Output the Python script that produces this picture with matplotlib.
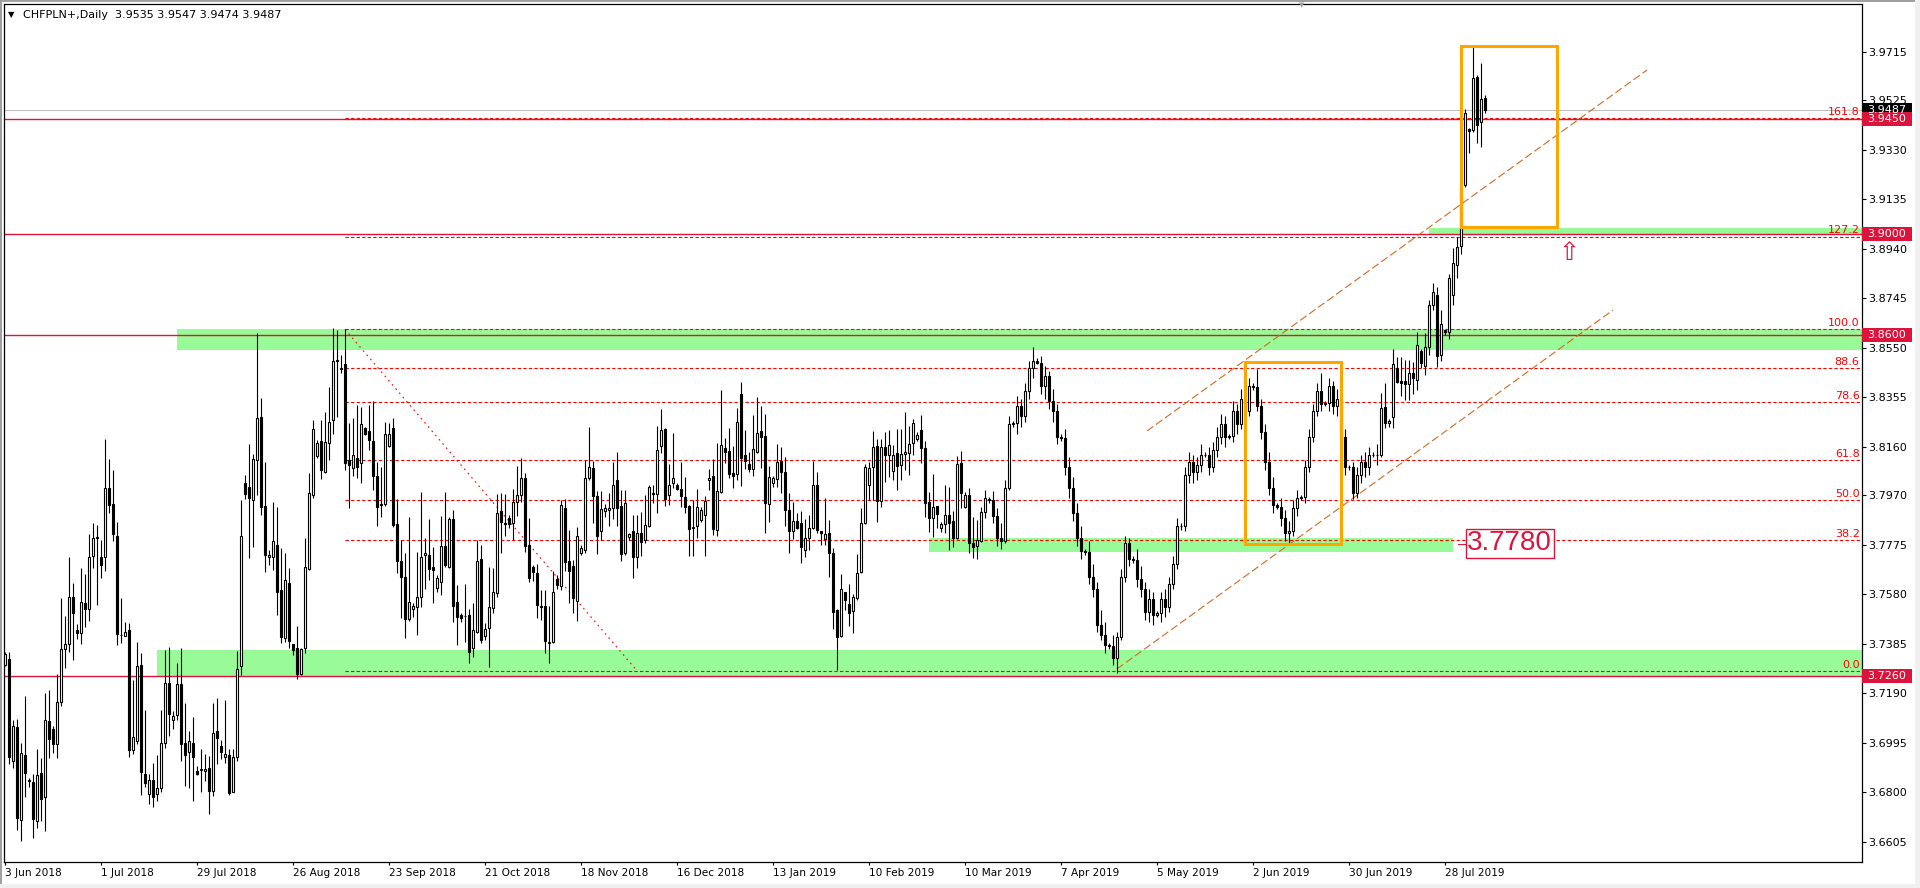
import numpy as np
import matplotlib.pyplot as plt
from matplotlib.patches import Rectangle
import matplotlib.transforms as mtransforms

plt.rcParams['font.family'] = ['DejaVu Sans']

# daily CHFPLN+ candles, one per trading day (Sunday bars included)
opens = [
    3.7300, 3.7325, 3.6925, 3.7056, 3.6690, 3.6949, 3.6847, 3.6839, 3.6687, 3.6876,
    3.6782, 3.7081, 3.7049, 3.6990, 3.7155, 3.7365, 3.7386, 3.7569, 3.7440, 3.7429,
    3.7546, 3.7521, 3.7731, 3.7804, 3.7725, 3.7725, 3.7998, 3.7935, 3.7809, 3.7420,
    3.7416, 3.7440, 3.6965, 3.7003, 3.7302, 3.6873, 3.6792, 3.6850, 3.6792, 3.6819,
    3.6995, 3.7230, 3.7087, 3.7104, 3.7226, 3.6995, 3.6959, 3.6995, 3.6884, 3.6887,
    3.6884, 3.6898, 3.6807, 3.7040, 3.6983, 3.6941, 3.6949, 3.6803, 3.6938, 3.7298,
    3.8020, 3.8004, 3.7951, 3.8109, 3.8279, 3.7928, 3.7726, 3.7728, 3.7774, 3.7597,
    3.7407, 3.7623, 3.7384, 3.7367, 3.7266, 3.7367, 3.7678, 3.7971, 3.8125, 3.8184,
    3.8063, 3.8177, 3.8266, 3.8500, 3.8468, 3.8487, 3.8109, 3.8076, 3.8115, 3.8096,
    3.8233, 3.8223, 3.8184, 3.8046, 3.7936, 3.7936, 3.8165, 3.8233, 3.7857, 3.7713,
    3.7647, 3.7483, 3.7522, 3.7529, 3.7571, 3.7735, 3.7735, 3.7688, 3.7604, 3.7630,
    3.7770, 3.7689, 3.7875, 3.7551, 3.7499, 3.7494, 3.7497, 3.7367, 3.7433, 3.7718,
    3.7416, 3.7446, 3.7525, 3.7587, 3.7906, 3.7862, 3.7879, 3.7862, 3.7945, 3.7971,
    3.8037, 3.7775, 3.7689, 3.7663, 3.7534, 3.7534, 3.7387, 3.7394, 3.7639, 3.7613,
    3.7919, 3.7711, 3.7692, 3.7555, 3.7742, 3.7755, 3.8037, 3.8076, 3.7967, 3.7831,
    3.7906, 3.7910, 3.7919, 3.8030, 3.7928, 3.7744, 3.7805, 3.7829, 3.7725, 3.7820,
    3.7794, 3.7850, 3.7975, 3.7974, 3.8162, 3.8230, 3.7971, 3.8017, 3.8011, 3.7994,
    3.7962, 3.7928, 3.7841, 3.7847, 3.7873, 3.7893, 3.8030, 3.8046, 3.7833, 3.7984,
    3.8155, 3.8144, 3.8059, 3.8054, 3.8367, 3.8129, 3.8092, 3.8072, 3.8142, 3.8221,
    3.8203, 3.7934, 3.8017, 3.8033, 3.8106, 3.8063, 3.7912, 3.7830, 3.7870, 3.7860,
    3.7755, 3.7801, 3.7840, 3.8011, 3.7830, 3.7797, 3.7823, 3.7742, 3.7518, 3.7416,
    3.7589, 3.7542, 3.7515, 3.7567, 3.7669, 3.7862, 3.8011, 3.8083, 3.8162, 3.7949,
    3.8159, 3.8127, 3.8066, 3.8138, 3.8088, 3.8131, 3.8135, 3.8175, 3.8190, 3.8227,
    3.8155, 3.7942, 3.7879, 3.7928, 3.7840, 3.7856, 3.7891, 3.7869, 3.7801, 3.8096,
    3.7925, 3.7970, 3.7781, 3.7770, 3.7790, 3.7903, 3.7955, 3.7950, 3.7890, 3.7800,
    3.7790, 3.8000, 3.8250, 3.8255, 3.8320, 3.8280, 3.8380, 3.8470, 3.8500, 3.8490,
    3.8400, 3.8440, 3.8340, 3.8300, 3.8200, 3.8195, 3.8080, 3.8000, 3.7900, 3.7800,
    3.7750, 3.7745, 3.7650, 3.7600, 3.7460, 3.7420, 3.7380, 3.7375, 3.7330, 3.7410,
    3.7650, 3.7780, 3.7720, 3.7715, 3.7640, 3.7600, 3.7510, 3.7560, 3.7500, 3.7505,
    3.7560, 3.7530, 3.7620, 3.7700, 3.7850, 3.7848, 3.8050, 3.8100, 3.8060, 3.8090,
    3.8130, 3.8128, 3.8080, 3.8150, 3.8200, 3.8250, 3.8200, 3.8205, 3.8300, 3.8250,
    3.8350, 3.8300, 3.8400, 3.8395, 3.8320, 3.8220, 3.8100, 3.8000, 3.7930, 3.7925,
    3.7880, 3.7820, 3.7830, 3.7920, 3.7960, 3.7962, 3.8080, 3.8200, 3.8300, 3.8380,
    3.8330, 3.8332, 3.8400, 3.8320, 3.8350, 3.8200, 3.8080, 3.8082, 3.7980, 3.8050,
    3.8100, 3.8080, 3.8130, 3.8128, 3.8129, 3.8316, 3.8253, 3.8277, 3.8470, 3.8418,
    3.8418, 3.8408, 3.8450, 3.8424, 3.8536, 3.8479, 3.8555, 3.8719, 3.8760, 3.8522,
    3.8620, 3.8614, 3.8760, 3.8877, 3.8950, 3.9191, 3.9410, 3.9408, 3.9618, 3.9441, 3.9535,
]
highs = [
    3.7352, 3.7352, 3.7087, 3.7090, 3.6995, 3.7180, 3.6857, 3.6873, 3.6972, 3.6934,
    3.7193, 3.7203, 3.7060, 3.7266, 3.7565, 3.7494, 3.7725, 3.7623, 3.7463, 3.7684,
    3.7660, 3.7817, 3.7860, 3.7852, 3.7792, 3.8191, 3.8111, 3.8068, 3.7863, 3.7566,
    3.7470, 3.7467, 3.7243, 3.7392, 3.7348, 3.7124, 3.6873, 3.6914, 3.6949, 3.7124,
    3.7361, 3.7372, 3.7121, 3.7308, 3.7368, 3.7152, 3.7040, 3.7097, 3.6904, 3.6972,
    3.6952, 3.6945, 3.7151, 3.7171, 3.7006, 3.7162, 3.6972, 3.6972, 3.7356, 3.7952,
    3.8050, 3.8172, 3.8132, 3.8608, 3.8352, 3.8102, 3.7755, 3.7945, 3.7925, 3.7761,
    3.7744, 3.7682, 3.7386, 3.7455, 3.7367, 3.7800, 3.8056, 3.8266, 3.8188, 3.8266,
    3.8299, 3.8398, 3.8627, 3.8621, 3.8522, 3.8623, 3.8256, 3.8273, 3.8325, 3.8316,
    3.8240, 3.8325, 3.8342, 3.8102, 3.8083, 3.8260, 3.8253, 3.8273, 3.7954, 3.7794,
    3.7741, 3.7886, 3.7545, 3.7748, 3.7982, 3.7800, 3.7875, 3.7768, 3.7656, 3.7890,
    3.7982, 3.7886, 3.7912, 3.7617, 3.7505, 3.7621, 3.7521, 3.7545, 3.7794, 3.7774,
    3.7468, 3.7689, 3.7682, 3.7974, 3.7978, 3.7974, 3.7893, 3.7995, 3.8087, 3.8116,
    3.8059, 3.7879, 3.7696, 3.7698, 3.7597, 3.7597, 3.7532, 3.7670, 3.7656, 3.7952,
    3.7954, 3.7833, 3.7715, 3.7843, 3.7774, 3.8109, 3.8240, 3.8103, 3.7988, 3.7988,
    3.7936, 3.7980, 3.8099, 3.8139, 3.7991, 3.7991, 3.7820, 3.7893, 3.7893, 3.7903,
    3.7971, 3.8011, 3.8011, 3.8243, 3.8310, 3.8233, 3.8093, 3.8214, 3.8020, 3.8100,
    3.8043, 3.7932, 3.7952, 3.7993, 3.7925, 3.7965, 3.8072, 3.8112, 3.8175, 3.8385,
    3.8194, 3.8234, 3.8164, 3.8312, 3.8415, 3.8227, 3.8142, 3.8286, 3.8358, 3.8322,
    3.8290, 3.8085, 3.8046, 3.8172, 3.8159, 3.8120, 3.7980, 3.7942, 3.7899, 3.7906,
    3.7877, 3.7893, 3.8106, 3.8063, 3.7830, 3.7958, 3.7873, 3.7761, 3.7521, 3.7660,
    3.7589, 3.7621, 3.7581, 3.7739, 3.7919, 3.8093, 3.8102, 3.8222, 3.8190, 3.8190,
    3.8218, 3.8227, 3.8168, 3.8230, 3.8230, 3.8297, 3.8243, 3.8270, 3.8218, 3.8286,
    3.8185, 3.7983, 3.8054, 3.7928, 3.7866, 3.8011, 3.8004, 3.7906, 3.8125, 3.8146,
    3.7984, 3.7997, 3.7883, 3.7873, 3.7925, 3.7990, 3.7962, 3.7985, 3.7920, 3.7860,
    3.8030, 3.8280, 3.8262, 3.8360, 3.8350, 3.8410, 3.8500, 3.8555, 3.8510, 3.8520,
    3.8480, 3.8460, 3.8390, 3.8330, 3.8210, 3.8230, 3.8120, 3.8040, 3.7940, 3.7850,
    3.7760, 3.7790, 3.7700, 3.7630, 3.7520, 3.7470, 3.7390, 3.7420, 3.7430, 3.7680,
    3.7810, 3.7800, 3.7730, 3.7760, 3.7690, 3.7630, 3.7600, 3.7590, 3.7515, 3.7590,
    3.7600, 3.7650, 3.7730, 3.7880, 3.7860, 3.8080, 3.8140, 3.8130, 3.8120, 3.8170,
    3.8140, 3.8160, 3.8180, 3.8240, 3.8290, 3.8280, 3.8210, 3.8340, 3.8330, 3.8390,
    3.8380, 3.8430, 3.8410, 3.8465, 3.8350, 3.8250, 3.8140, 3.8040, 3.7940, 3.7960,
    3.7910, 3.7870, 3.7950, 3.7990, 3.7970, 3.8110, 3.8230, 3.8330, 3.8410, 3.8450,
    3.8340, 3.8430, 3.8420, 3.8390, 3.8370, 3.8230, 3.8090, 3.8100, 3.8080, 3.8130,
    3.8140, 3.8160, 3.8140, 3.8170, 3.8372, 3.8411, 3.8270, 3.8545, 3.8516, 3.8513,
    3.8503, 3.8503, 3.8496, 3.8614, 3.8545, 3.8610, 3.8739, 3.8804, 3.8790, 3.8700,
    3.8621, 3.8840, 3.8942, 3.8988, 3.9195, 3.9489, 3.9414, 3.9739, 3.9624, 3.9673, 3.9547,
]
lows = [
    3.7298, 3.6911, 3.6898, 3.6651, 3.6610, 3.6782, 3.6823, 3.6620, 3.6660, 3.6687,
    3.6647, 3.6934, 3.6955, 3.6934, 3.7142, 3.7291, 3.7352, 3.7321, 3.7402, 3.7386,
    3.7451, 3.7474, 3.7684, 3.7537, 3.7643, 3.7673, 3.7901, 3.7788, 3.7379, 3.7388,
    3.7414, 3.6938, 3.6952, 3.6992, 3.6789, 3.6823, 3.6755, 3.6744, 3.6765, 3.6800,
    3.6976, 3.7022, 3.7049, 3.7087, 3.6925, 3.6827, 3.6816, 3.6765, 3.6868, 3.6803,
    3.6843, 3.6715, 3.6785, 3.6911, 3.6931, 3.6914, 3.6789, 3.6800, 3.6925, 3.7264,
    3.7955, 3.7722, 3.7768, 3.7971, 3.7892, 3.7669, 3.7695, 3.7676, 3.7499, 3.7387,
    3.7394, 3.7367, 3.7341, 3.7245, 3.7262, 3.7348, 3.7676, 3.7958, 3.8115, 3.8034,
    3.8056, 3.8109, 3.8211, 3.8279, 3.8450, 3.8069, 3.7919, 3.8046, 3.8037, 3.8017,
    3.8207, 3.8148, 3.7991, 3.7849, 3.7886, 3.7928, 3.8161, 3.7846, 3.7663, 3.7486,
    3.7407, 3.7476, 3.7492, 3.7420, 3.7531, 3.7600, 3.7636, 3.7545, 3.7590, 3.7577,
    3.7689, 3.7682, 3.7472, 3.7381, 3.7472, 3.7394, 3.7308, 3.7335, 3.7426, 3.7387,
    3.7400, 3.7295, 3.7505, 3.7571, 3.7742, 3.7810, 3.7840, 3.7794, 3.7889, 3.7945,
    3.7748, 3.7630, 3.7634, 3.7486, 3.7477, 3.7348, 3.7311, 3.7387, 3.7600, 3.7597,
    3.7670, 3.7547, 3.7508, 3.7473, 3.7735, 3.7744, 3.8030, 3.7862, 3.7739, 3.7792,
    3.7883, 3.7847, 3.7877, 3.7847, 3.7713, 3.7735, 3.7794, 3.7646, 3.7683, 3.7729,
    3.7781, 3.7843, 3.7941, 3.7899, 3.8138, 3.7929, 3.7932, 3.7998, 3.7991, 3.7925,
    3.7899, 3.7731, 3.7731, 3.7801, 3.7866, 3.7729, 3.7991, 3.7814, 3.7810, 3.7980,
    3.8096, 3.8037, 3.7998, 3.8030, 3.8007, 3.8072, 3.8063, 3.8047, 3.8135, 3.8079,
    3.7823, 3.7866, 3.8004, 3.8001, 3.7978, 3.7847, 3.7744, 3.7799, 3.7836, 3.7705,
    3.7726, 3.7755, 3.7837, 3.7820, 3.7775, 3.7774, 3.7650, 3.7442, 3.7282, 3.7413,
    3.7518, 3.7455, 3.7429, 3.7558, 3.7663, 3.7857, 3.7950, 3.7951, 3.7866, 3.7923,
    3.8021, 3.8043, 3.8028, 3.7991, 3.8028, 3.8070, 3.8049, 3.8129, 3.8185, 3.8098,
    3.7883, 3.7824, 3.7807, 3.7840, 3.7827, 3.7820, 3.7755, 3.7765, 3.7797, 3.7919,
    3.7919, 3.7742, 3.7722, 3.7718, 3.7784, 3.7880, 3.7940, 3.7860, 3.7770, 3.7760,
    3.7780, 3.7990, 3.8240, 3.8210, 3.8240, 3.8260, 3.8350, 3.8430, 3.8485, 3.8370,
    3.8350, 3.8310, 3.8260, 3.8170, 3.8185, 3.8050, 3.7960, 3.7870, 3.7770, 3.7720,
    3.7735, 3.7620, 3.7570, 3.7430, 3.7400, 3.7350, 3.7365, 3.7300, 3.7272, 3.7400,
    3.7630, 3.7690, 3.7705, 3.7610, 3.7570, 3.7480, 3.7470, 3.7460, 3.7490, 3.7470,
    3.7490, 3.7510, 3.7600, 3.7680, 3.7835, 3.7830, 3.8020, 3.8020, 3.8030, 3.8060,
    3.8120, 3.8050, 3.8060, 3.8120, 3.8170, 3.8160, 3.8190, 3.8180, 3.8210, 3.8230,
    3.8270, 3.8280, 3.8385, 3.8300, 3.8190, 3.8070, 3.7970, 3.7900, 3.7915, 3.7850,
    3.7790, 3.7778, 3.7810, 3.7890, 3.7950, 3.7940, 3.8060, 3.8180, 3.8280, 3.8300,
    3.8320, 3.8300, 3.8290, 3.8280, 3.8170, 3.8050, 3.8070, 3.7955, 3.7960, 3.8020,
    3.8040, 3.8050, 3.8120, 3.8090, 3.8120, 3.8234, 3.8240, 3.8234, 3.8411, 3.8361,
    3.8345, 3.8345, 3.8369, 3.8385, 3.8470, 3.8444, 3.8522, 3.8700, 3.8476, 3.8500,
    3.8601, 3.8585, 3.8720, 3.8824, 3.8920, 3.9185, 3.9316, 3.9401, 3.9355, 3.9342, 3.9474,
]
closes = [
    3.7345, 3.6938, 3.7060, 3.6701, 3.6955, 3.6876, 3.6845, 3.6694, 3.6868, 3.6773,
    3.7085, 3.7009, 3.6992, 3.7155, 3.7365, 3.7383, 3.7569, 3.7508, 3.7429, 3.7548,
    3.7521, 3.7727, 3.7802, 3.7802, 3.7697, 3.7998, 3.7931, 3.7819, 3.7424, 3.7419,
    3.7433, 3.6968, 3.7017, 3.7298, 3.6880, 3.6837, 3.6850, 3.6782, 3.6816, 3.6995,
    3.7230, 3.7108, 3.7101, 3.7226, 3.6992, 3.6949, 3.7003, 3.6941, 3.6873, 3.6894,
    3.6894, 3.6807, 3.7033, 3.7016, 3.6959, 3.6952, 3.6796, 3.6938, 3.7284, 3.7809,
    3.7975, 3.7958, 3.8111, 3.8273, 3.7922, 3.7735, 3.7735, 3.7790, 3.7590, 3.7413,
    3.7636, 3.7398, 3.7361, 3.7266, 3.7363, 3.7689, 3.7978, 3.8230, 3.8174, 3.8069,
    3.8180, 3.8258, 3.8499, 3.8502, 3.8470, 3.8096, 3.8089, 3.8129, 3.8083, 3.8251,
    3.8211, 3.8188, 3.8046, 3.7925, 3.7930, 3.8211, 3.8211, 3.7853, 3.7713, 3.7647,
    3.7483, 3.7548, 3.7534, 3.7571, 3.7726, 3.7741, 3.7678, 3.7676, 3.7643, 3.7770,
    3.7695, 3.7875, 3.7534, 3.7492, 3.7485, 3.7496, 3.7354, 3.7440, 3.7713, 3.7400,
    3.7442, 3.7529, 3.7590, 3.7899, 3.7866, 3.7858, 3.7857, 3.7945, 3.7971, 3.8037,
    3.7771, 3.7646, 3.7666, 3.7538, 3.7529, 3.7398, 3.7394, 3.7588, 3.7617, 3.7932,
    3.7709, 3.7670, 3.7564, 3.7810, 3.7761, 3.8037, 3.8083, 3.7965, 3.7810, 3.7916,
    3.7919, 3.7919, 3.8011, 3.7921, 3.7739, 3.7938, 3.7816, 3.7725, 3.7823, 3.7785,
    3.7853, 3.8001, 3.7978, 3.8148, 3.8227, 3.7956, 3.8011, 3.8037, 3.7995, 3.7965,
    3.7923, 3.7836, 3.7845, 3.7923, 3.7912, 3.7948, 3.8037, 3.7837, 3.7987, 3.8168,
    3.8142, 3.8053, 3.8047, 3.8260, 3.8118, 3.8106, 3.8072, 3.8151, 3.8214, 3.8198,
    3.7938, 3.8041, 3.8037, 3.8100, 3.8063, 3.7910, 3.7831, 3.7869, 3.7840, 3.7765,
    3.7801, 3.7840, 3.8011, 3.7833, 3.7820, 3.7816, 3.7742, 3.7512, 3.7413, 3.7600,
    3.7558, 3.7505, 3.7568, 3.7665, 3.7860, 3.8080, 3.8076, 3.8159, 3.7949, 3.8159,
    3.8129, 3.8167, 3.8129, 3.8087, 3.8133, 3.8139, 3.8172, 3.8253, 3.8206, 3.8155,
    3.7938, 3.7879, 3.7925, 3.7895, 3.7856, 3.7891, 3.7860, 3.7801, 3.8093, 3.7978,
    3.7970, 3.7781, 3.7768, 3.7794, 3.7903, 3.7960, 3.7950, 3.7890, 3.7800, 3.7790,
    3.8000, 3.8250, 3.8255, 3.8320, 3.8280, 3.8380, 3.8470, 3.8500, 3.8490, 3.8400,
    3.8440, 3.8340, 3.8300, 3.8200, 3.8195, 3.8080, 3.8000, 3.7900, 3.7800, 3.7750,
    3.7745, 3.7650, 3.7600, 3.7460, 3.7420, 3.7380, 3.7375, 3.7330, 3.7410, 3.7650,
    3.7780, 3.7720, 3.7715, 3.7640, 3.7600, 3.7510, 3.7560, 3.7500, 3.7505, 3.7560,
    3.7530, 3.7620, 3.7700, 3.7850, 3.7848, 3.8050, 3.8100, 3.8060, 3.8090, 3.8130,
    3.8128, 3.8080, 3.8150, 3.8200, 3.8250, 3.8200, 3.8205, 3.8300, 3.8250, 3.8350,
    3.8300, 3.8400, 3.8395, 3.8320, 3.8220, 3.8100, 3.8000, 3.7930, 3.7925, 3.7880,
    3.7820, 3.7830, 3.7920, 3.7960, 3.7962, 3.8080, 3.8200, 3.8300, 3.8380, 3.8330,
    3.8332, 3.8400, 3.8320, 3.8350, 3.8200, 3.8080, 3.8082, 3.7980, 3.8050, 3.8100,
    3.8080, 3.8130, 3.8128, 3.8128, 3.8312, 3.8253, 3.8264, 3.8486, 3.8414, 3.8411,
    3.8408, 3.8450, 3.8431, 3.8562, 3.8492, 3.8555, 3.8719, 3.8770, 3.8518, 3.8645,
    3.8614, 3.8824, 3.8883, 3.8949, 3.9185, 3.9474, 3.9404, 3.9611, 3.9428, 3.9529, 3.9487,
]

date_ticks = [0, 24, 48, 72, 96, 120, 144, 168, 192, 216, 240, 264, 288, 312, 336, 360]
date_labels = ['3 Jun 2018', '1 Jul 2018', '29 Jul 2018', '26 Aug 2018', '23 Sep 2018',
               '21 Oct 2018', '18 Nov 2018', '16 Dec 2018', '13 Jan 2019', '10 Feb 2019',
               '10 Mar 2019', '7 Apr 2019', '5 May 2019', '2 Jun 2019', '30 Jun 2019',
               '28 Jul 2019']
price_ticks = [3.9715, 3.9525, 3.9330, 3.9135, 3.8940, 3.8745, 3.8550, 3.8355, 3.8160,
               3.7970, 3.7775, 3.7580, 3.7385, 3.7190, 3.6995, 3.6800, 3.6605]

title = 'CHFPLN+,Daily  3.9535 3.9547 3.9474 3.9487'
last_price = 3.9487
level_lines = [3.9450, 3.9000, 3.8600, 3.7260]

fib_start, fib_end = 85, 158
fib_high, fib_low = 3.8623, 3.7279
fib_levels = [0.0, 38.2, 50.0, 61.8, 78.6, 88.6, 100.0, 127.2, 161.8]

# support / resistance zones: first bar, last bar (None = to the edge), low, high
zone_start = [43, 38, 356, 231]
zone_end = [None, None, None, 362]
zone_low = [3.8540, 3.7258, 3.8999, 3.7747]
zone_high = [3.8624, 3.7361, 3.9022, 3.7802]

# orange boxes: first bar, last bar, low, high
box_start = [364, 310]
box_end = [388, 334]
box_low = [3.9027, 3.7778]
box_high = [3.9740, 3.8495]

# rising channel (two parallel dashed lines)
lower_x = [278, 402]
lower_y = [3.7286, 3.8699]
upper_x = [285.5, 410.5]
upper_y = [3.8223, 3.9644]

note_value = 3.7780
arrow_bar, arrow_price = 391, 3.8922

crimson = '#DC143C'
W, H = 1920, 888
ax_l, ax_b, ax_w, ax_h = 4, 26, 1858, 857.5
ylo, yhi = 3.6526, 3.9902
xlo, xhi = -0.25, 464.25

fig = plt.figure(figsize=(W / 100, H / 100), dpi=100)
fig.patch.set_facecolor('white')
ax = fig.add_axes([ax_l / W, ax_b / H, ax_w / W, ax_h / H])
ax.set_xlim(xlo, xhi)
ax.set_ylim(ylo, yhi)
ppp = (yhi - ylo) / ax_h  # price per pixel

# zones
for s, e, lo, hi in zip(zone_start, zone_end, zone_low, zone_high):
    end = xhi if e is None else e
    ax.add_patch(Rectangle((s, lo), end - s, hi - lo, facecolor='#98FB98',
                           edgecolor='none', zorder=1))

# horizontal levels
ax.axhline(last_price, color='#C0C0C0', lw=0.8, zorder=2)
for p in level_lines:
    ax.axhline(p, color=crimson, lw=1.0, zorder=2)

# fibonacci
span = fib_high - fib_low
for lv in fib_levels:
    p = fib_low + lv / 100 * span
    ax.hlines(p, fib_start, xhi, colors='#FF0000', lw=0.8,
              linestyles=(0, (3.0, 2.0)), zorder=2)
    ax.text(xhi - 0.6, p + 1.2 * ppp, f'{lv:.1f}', color='#FF0000', fontsize=8,
            ha='right', va='bottom', zorder=6)
ax.plot([fib_start, fib_end], [fib_high, fib_low], color='#FF0000', lw=0.8,
        ls=(0, (1.5, 3.5)), zorder=2)

# trend channel
ax.plot(lower_x, lower_y, color='#D2691E', lw=0.8, ls=(0, (7, 3)), zorder=2)
ax.plot(upper_x, upper_y, color='#D2691E', lw=0.8, ls=(0, (7, 3)), zorder=2)

# candles
o = np.array(opens)
h = np.array(highs)
l = np.array(lows)
c = np.array(closes)
x = np.arange(len(c))
ax.vlines(x, l, h, color='black', lw=0.8, zorder=3)
up = c >= o
bottom = np.minimum(o, c)
height = np.maximum(np.abs(c - o), 0.00008)
ax.bar(x[up], height[up], bottom=bottom[up], width=0.5, facecolor='white',
       edgecolor='black', linewidth=0.8, zorder=4)
ax.bar(x[~up], height[~up], bottom=bottom[~up], width=0.5, facecolor='black',
       edgecolor='black', linewidth=0.8, zorder=4)

# orange boxes
for s, e, lo, hi in zip(box_start, box_end, box_low, box_high):
    ax.add_patch(Rectangle((s, lo), e - s, hi - lo, facecolor='none',
                           edgecolor='#FFA500', lw=2.2, zorder=5))

# annotation 3.7780
ax.plot([363.3, 365.6], [note_value - 0.0002] * 2, color=crimson, lw=0.8, zorder=5)
ax.text(376.2, note_value, f'{note_value:.4f}', fontsize=20, family='Liberation Sans',
        color=crimson, ha='center', va='center', zorder=6,
        bbox=dict(boxstyle='square,pad=0.06', facecolor='white', edgecolor=crimson, lw=1.0))
ax.text(arrow_bar, arrow_price, '\u21e7', fontsize=18, color=crimson,
        ha='center', va='center', zorder=6)

# axes styling
for sp in ax.spines.values():
    sp.set_color('black')
    sp.set_linewidth(0.9)
ax.yaxis.tick_right()
ax.set_yticks(price_ticks)
ax.set_yticklabels([f'{t:.4f}' for t in price_ticks])
ax.tick_params(axis='y', direction='out', length=3, width=0.8, pad=1.5, labelsize=8,
               colors='black')
ax.set_xticks(date_ticks)
ax.set_xticklabels(date_labels, ha='left')
ax.tick_params(axis='x', direction='out', length=2.5, width=0.8, pad=2.0, labelsize=7.6)

# price labels on the right axis
trans = mtransforms.blended_transform_factory(ax.transAxes, ax.transData)
lab_w = 50 / ax_w
for p, fc in [(last_price, 'black')] + [(p, crimson) for p in level_lines]:
    ax.add_patch(Rectangle((1.0, p - 7 * ppp), lab_w, 14 * ppp, transform=trans,
                           facecolor=fc, edgecolor='none', clip_on=False, zorder=7))
    ax.text(1.0 + 5 / ax_w, p, f'{p:.4f}', transform=trans, color='white', fontsize=8,
            ha='left', va='center', clip_on=False, zorder=8)

# title and frame details
fig.text(8 / W, 1 - 15 / H, '\u25bc', fontsize=6, ha='left', va='center')
fig.text(23 / W, 1 - 15 / H, title, fontsize=8, ha='left', va='center')
fig.text(1302 / W, 1 - 5 / H, '\u25bc', fontsize=5, color='#A0A0A0', ha='center', va='center')
fig.add_artist(Rectangle((0, 1 - 2 / H), 1, 2 / H, transform=fig.transFigure,
                         facecolor='#A0A0A0', edgecolor='none'))
fig.add_artist(Rectangle((0, 0), 2 / W, 1, transform=fig.transFigure,
                         facecolor='#A0A0A0', edgecolor='none'))
fig.add_artist(Rectangle((0, 0), 1, 4 / H, transform=fig.transFigure,
                         facecolor='#F0F0F0', edgecolor='none'))
fig.add_artist(Rectangle((1 - 5 / W, 0), 5 / W, 1, transform=fig.transFigure,
                         facecolor='#F0F0F0', edgecolor='none'))

fig.savefig('out.png', dpi=100)
